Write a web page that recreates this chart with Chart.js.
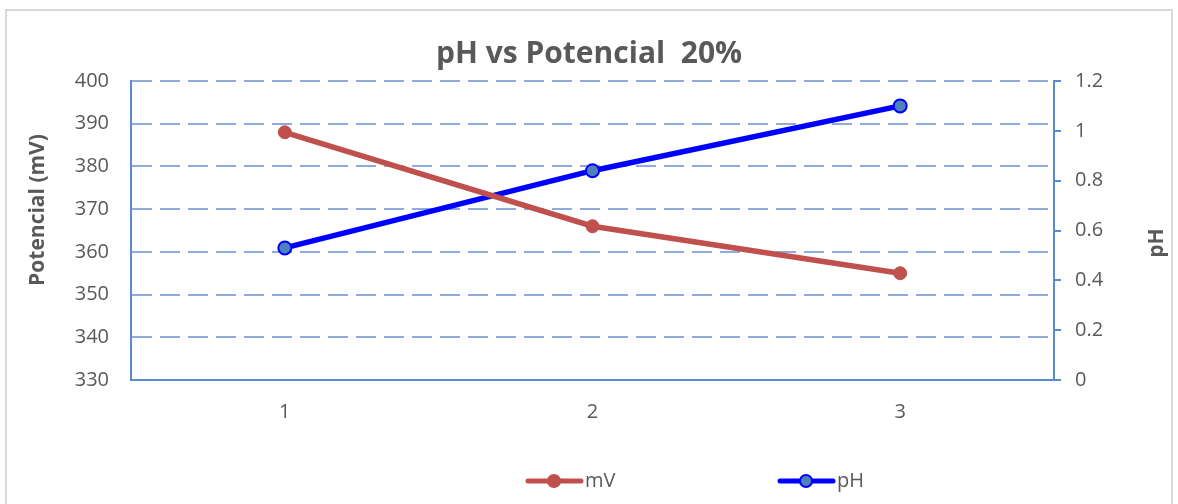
<!DOCTYPE html>
<html>
<head>
<meta charset="utf-8">
<script src="https://cdn.jsdelivr.net/npm/chart.js@4.4.1/dist/chart.umd.min.js"></script>
<style>
  html, body { margin: 0; padding: 0; background: #ffffff; }
  #wrap { width: 1178px; height: 504px; position: relative; }
</style>
</head>
<body>
<div id="wrap"><canvas id="chart" width="1178" height="504"></canvas></div>
<script>
// Sample readings
const categories = ['1', '2', '3'];
const potencialMV = [388, 366, 355];
const phValues = [0.53, 0.84, 1.10];
const mvTicks = [330, 340, 350, 360, 370, 380, 390, 400];
const phTicks = [0, 0.2, 0.4, 0.6, 0.8, 1.0, 1.2];
const axisTitles = { left: 'Potencial (mV)', right: 'pH' };

const FONT = "'Open Sans', 'DejaVu Sans', sans-serif";
const TEXT = '#595959';
const GRID = '#8FAADC';
const AXIS = '#5A8AD0';

// Outer frame around the chart object
const framePlugin = {
  id: 'frame',
  beforeDraw(chart) {
    const ctx = chart.ctx;
    ctx.save();
    ctx.fillStyle = '#ffffff';
    ctx.fillRect(0, 0, chart.width, chart.height);
    ctx.strokeStyle = '#d9d9d9';
    ctx.lineWidth = 2;
    ctx.strokeRect(6, 10, 1166, 520);
    ctx.restore();
  }
};

// Both axis titles read bottom-to-top
const axisTitlePlugin = {
  id: 'axisTitles',
  afterDraw(chart) {
    const ctx = chart.ctx;
    ctx.save();
    ctx.fillStyle = TEXT;
    ctx.font = 'bold 21px ' + FONT;
    ctx.textAlign = 'center';
    ctx.textBaseline = 'middle';
    [[axisTitles.left, 38, 210], [axisTitles.right, 1157, 243]].forEach(([t, x, y]) => {
      ctx.save();
      ctx.translate(x, y);
      ctx.rotate(-Math.PI / 2);
      ctx.fillText(t, 0, 0);
      ctx.restore();
    });
    ctx.restore();
  }
};

// Legend with line + marker swatches, drawn under the plot
const swatchLegend = {
  id: 'swatchLegend',
  afterDraw(chart) {
    const ctx = chart.ctx;
    const y = 481;
    const starts = [526, 778];
    ctx.save();
    chart.data.datasets.forEach((ds, i) => {
      const x0 = starts[i];
      ctx.strokeStyle = ds.borderColor;
      ctx.lineWidth = 5;
      ctx.lineCap = 'round';
      ctx.beginPath();
      ctx.moveTo(x0 + 2, y);
      ctx.lineTo(x0 + 55, y);
      ctx.stroke();
      ctx.beginPath();
      ctx.arc(x0 + 28, y, 6, 0, Math.PI * 2);
      ctx.fillStyle = ds.pointBackgroundColor;
      ctx.fill();
      ctx.lineWidth = 2;
      ctx.strokeStyle = ds.pointBorderColor;
      ctx.stroke();
      ctx.fillStyle = TEXT;
      ctx.font = '20px ' + FONT;
      ctx.textBaseline = 'middle';
      ctx.textAlign = 'left';
      ctx.fillText(ds.label, x0 + 59, y);
    });
    ctx.restore();
  }
};

new Chart(document.getElementById('chart'), {
  type: 'line',
  data: {
    labels: categories,
    datasets: [
      {
        label: 'mV',
        data: potencialMV,
        yAxisID: 'yMV',
        borderColor: '#C0504D',
        backgroundColor: '#C0504D',
        pointBackgroundColor: '#C0504D',
        pointBorderColor: '#C0504D',
        borderWidth: 5.5,
        pointRadius: 6.5,
        pointBorderWidth: 1,
        tension: 0
      },
      {
        label: 'pH',
        data: phValues,
        yAxisID: 'yPH',
        borderColor: '#0000FF',
        backgroundColor: '#0000FF',
        pointBackgroundColor: '#4F81BD',
        pointBorderColor: '#0000FF',
        borderWidth: 5.5,
        pointRadius: 6.5,
        pointBorderWidth: 2,
        tension: 0
      }
    ]
  },
  options: {
    responsive: false,
    animation: false,
    layout: { padding: { left: 0, right: 0, top: 0, bottom: 0 } },
    plugins: {
      legend: { display: false },
      tooltip: { enabled: false },
      title: {
        display: true,
        text: 'pH vs Potencial  20%',
        color: TEXT,
        font: { family: FONT, size: 30, weight: 'bold' },
        padding: { top: 36, bottom: 9 }
      }
    },
    scales: {
      x: {
        type: 'category',
        offset: true,
        grid: { display: false, drawTicks: false },
        border: { display: true, color: AXIS, width: 2 },
        ticks: { color: TEXT, font: { family: FONT, size: 20 }, padding: 20 },
        afterFit(scale) { scale.height = 124; }
      },
      yMV: {
        type: 'linear',
        position: 'left',
        min: 330,
        max: 400,
        afterBuildTicks(scale) { scale.ticks = mvTicks.map(v => ({ value: v })); },
        grid: {
          color: GRID,
          lineWidth: 2,
          drawTicks: false
        },
        border: { display: true, color: AXIS, width: 2, dash: [20, 8] },
        ticks: { color: TEXT, font: { family: FONT, size: 20 }, padding: 22 },
        afterFit(scale) { scale.width = 131; }
      },
      yPH: {
        type: 'linear',
        position: 'right',
        min: 0,
        max: 1.2,
        afterBuildTicks(scale) { scale.ticks = phTicks.map(v => ({ value: v })); },
        grid: { drawOnChartArea: false, color: AXIS, lineWidth: 2, tickLength: 7 },
        border: { display: true, color: AXIS, width: 2 },
        ticks: {
          color: TEXT,
          font: { family: FONT, size: 20 },
          padding: 14,
          callback: v => String(Math.round(v * 10) / 10)
        },
        afterFit(scale) { scale.width = 124; }
      }
    }
  },
  plugins: [framePlugin, axisTitlePlugin, swatchLegend]
});
</script>
</body>
</html>
